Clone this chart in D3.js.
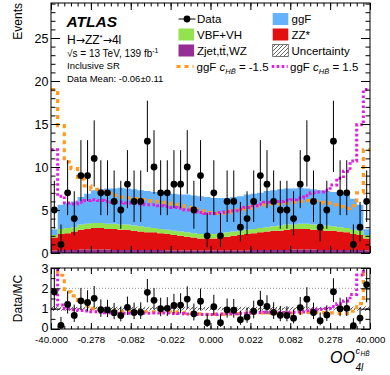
<!DOCTYPE html>
<html>
<head>
<meta charset="utf-8">
<script src="https://cdn.jsdelivr.net/npm/d3@7"></script>
<style>
  body { margin: 0; background: #fff; }
  svg { display: block; }
  text { font-family: "Liberation Sans", Arial, Helvetica, sans-serif; fill: #000; }
</style>
</head>
<body>
<div id="chart"></div>
<script>
// bin edge labels, one every 6 bins (48 bins total)
const binLabels = ["-40.000", "-0.278", "-0.082", "-0.022", "0.000", "0.022", "0.082", "0.278", "40.000"];

const dataCounts = [5, 1, 7, 4, 9, 9, 11, 7, 7, 6, 5, 8, 6, 6, 13, 10, 7, 7, 8, 8,
  10, 5, 9, 2, 7, 2, 6, 6, 3, 4, 6, 9, 8, 6, 5, 5, 4, 8, 11, 6, 3, 5, 13, 7, 7, 1, 3, 6];

// stacked backgrounds / signal, bottom to top
const zjet = [0.3, 0.35, 0.35, 0.35, 0.4, 0.4, 0.4, 0.4, 0.4, 0.35, 0.35, 0.35, 0.35, 0.35, 0.35, 0.35,
  0.35, 0.3, 0.3, 0.3, 0.3, 0.3, 0.3, 0.3, 0.3, 0.3, 0.3, 0.3, 0.3, 0.3, 0.35, 0.35,
  0.35, 0.35, 0.35, 0.35, 0.4, 0.4, 0.4, 0.4, 0.35, 0.35, 0.35, 0.35, 0.35, 0.35, 0.35, 0.3];
const zz = [1.5, 1.85, 1.95, 2.15, 2.3, 2.4, 2.5, 2.5, 2.4, 2.45, 2.35, 2.35, 2.25, 2.15, 2.05, 2.05,
  1.95, 1.9, 1.8, 1.7, 1.6, 1.5, 1.4, 1.4, 1.4, 1.5, 1.6, 1.7, 1.8, 1.9, 1.95, 2.05,
  2.15, 2.25, 2.25, 2.35, 2.4, 2.4, 2.4, 2.3, 2.35, 2.25, 2.25, 2.15, 2.05, 1.85, 1.75, 1.4];
const vbf = [0.3, 0.6, 0.6, 0.5, 0.6, 0.6, 0.6, 0.6, 0.6, 0.6, 0.6, 0.6, 0.6, 0.6, 0.6, 0.5,
  0.5, 0.5, 0.5, 0.5, 0.5, 0.5, 0.5, 0.5, 0.5, 0.5, 0.5, 0.5, 0.5, 0.5, 0.5, 0.5,
  0.5, 0.5, 0.6, 0.6, 0.5, 0.6, 0.6, 0.6, 0.6, 0.6, 0.5, 0.5, 0.5, 0.5, 0.5, 0.4];
const ggf = [0.65, 2.8, 2.9, 3.0, 3.2, 3.5, 3.8, 3.9, 4.1, 4.1, 4.3, 4.2, 4.2, 4.2, 4.2, 4.2,
  4.2, 4.2, 4.3, 4.3, 4.4, 4.4, 4.4, 4.3, 4.2, 4.1, 4.0, 4.0, 4.0, 4.1, 4.1, 4.1,
  4.2, 4.2, 4.2, 4.2, 4.2, 4.2, 4.1, 4.1, 4.0, 4.0, 4.0, 4.0, 4.0, 3.6, 3.0, 0.65];

// total prediction with modified ggF (c_HB~ = -1.5 and +1.5)
const ggfMinus = [19.0, 14.8, 10.6, 9.8, 8.6, 7.8, 7.4, 7.1, 6.9, 6.7, 6.5, 6.4, 6.3, 6.2, 6.1, 6.0,
  5.9, 5.8, 5.7, 5.5, 5.3, 5.1, 4.9, 4.7, 4.6, 4.6, 4.7, 4.9, 5.0, 5.2, 5.4, 5.5,
  5.7, 5.7, 5.7, 5.8, 5.9, 6.0, 6.1, 6.0, 5.9, 5.8, 5.6, 5.4, 5.2, 5.5, 7.0, 12.0];
const ggfPlus = [12.0, 6.6, 5.8, 5.7, 5.9, 6.1, 6.2, 6.1, 6.0, 5.9, 5.9, 5.8, 5.8, 5.7, 5.6, 5.6,
  5.5, 5.4, 5.3, 5.2, 5.0, 4.9, 4.7, 4.6, 4.6, 4.7, 4.8, 4.9, 5.1, 5.3, 5.5, 5.7,
  5.9, 6.0, 6.0, 6.1, 6.2, 6.4, 6.7, 7.0, 7.1, 7.3, 7.9, 8.7, 9.5, 10.7, 14.9, 19.0];

// relative MC uncertainty per bin
const relUnc = [0.12, 0.1, 0.1, 0.1, 0.09, 0.09, 0.09, 0.09, 0.09, 0.09, 0.09, 0.09, 0.09, 0.09, 0.09, 0.09,
  0.09, 0.09, 0.09, 0.09, 0.09, 0.09, 0.09, 0.09, 0.09, 0.09, 0.09, 0.09, 0.09, 0.09, 0.09, 0.09,
  0.09, 0.09, 0.09, 0.09, 0.09, 0.09, 0.09, 0.09, 0.09, 0.09, 0.09, 0.09, 0.09, 0.1, 0.1, 0.12];

const nBins = dataCounts.length;
const colors = { zjet: "#952f93", zz: "#e10f0f", vbf: "#94e24d", ggf: "#64b2fa" };
const orange = "#ff9a1f", magenta = "#e01ee0";

const W = 390, H = 375;
const L = 51, R = 370;
const mainTop = 3, mainBot = 253;
const ratTop = 268, ratBot = 329;

const svg = d3.select("#chart").append("svg")
  .attr("width", W).attr("height", H);

const x = d3.scaleLinear().domain([0, nBins]).range([L, R]);
const y = d3.scaleLinear().domain([0, 29.07]).range([mainBot, mainTop]);
const yr = d3.scaleLinear().domain([0, 3]).range([ratBot, ratTop]);

// defs: clip paths and hatch
const defs = svg.append("defs");
defs.append("clipPath").attr("id", "clipMain")
  .append("rect").attr("x", L).attr("y", mainTop).attr("width", R - L).attr("height", mainBot - mainTop);
defs.append("clipPath").attr("id", "clipRat")
  .append("rect").attr("x", L).attr("y", ratTop).attr("width", R - L).attr("height", ratBot - ratTop);
const hatch = defs.append("pattern").attr("id", "hatch")
  .attr("patternUnits", "userSpaceOnUse").attr("width", 4).attr("height", 4);
hatch.append("path").attr("d", "M-1,1 l2,-2 M0,4 l4,-4 M3,5 l2,-2")
  .attr("stroke", "#222").attr("stroke-width", 0.7);

// stacked MC
const rows = d3.range(nBins).map(i => ({ zjet: zjet[i], zz: zz[i], vbf: vbf[i], ggf: ggf[i] }));
const keys = ["zjet", "zz", "vbf", "ggf"];
const layers = d3.stack().keys(keys)(rows);
const mcTotal = rows.map(r => r.zjet + r.zz + r.vbf + r.ggf);

// helper: step points with closing edge
const stepPts = arr => arr.map((v, i) => ({ i, v })).concat([{ i: arr.length, v: arr[arr.length - 1] }]);

const area = d3.area()
  .x(d => x(d.i)).y0(d => y(d.y0)).y1(d => y(d.y1))
  .curve(d3.curveStepAfter);

const gMain = svg.append("g").attr("clip-path", "url(#clipMain)");
layers.forEach(layer => {
  const pts = layer.map((d, i) => ({ i, y0: d[0], y1: d[1] }));
  pts.push({ i: nBins, y0: pts[nBins - 1].y0, y1: pts[nBins - 1].y1 });
  gMain.append("path")
    .attr("d", area(pts))
    .attr("fill", colors[layer.key]);
});

// alternative hypotheses
const stepLine = (ys) => d3.line().x(d => x(d.i)).y(d => ys(d.v)).curve(d3.curveStepAfter);
gMain.append("path").attr("d", stepLine(y)(stepPts(ggfMinus)))
  .attr("fill", "none").attr("stroke", orange).attr("stroke-width", 3.2).attr("stroke-dasharray", "4,4");
gMain.append("path").attr("d", stepLine(y)(stepPts(ggfPlus)))
  .attr("fill", "none").attr("stroke", magenta).attr("stroke-width", 3).attr("stroke-dasharray", "2.6,2.4");

// Poisson (Garwood-like) intervals for the data
const errLo = n => n > 0 ? n - Math.sqrt(n - 0.25) : 0;
const errHi = n => n + 1 + Math.sqrt(n + 0.75);

const points = dataCounts.map((n, i) => ({ i, n, lo: errLo(n), hi: errHi(n), mc: mcTotal[i] }));

gMain.selectAll(".err").data(points).enter().append("line")
  .attr("x1", d => x(d.i + 0.5)).attr("x2", d => x(d.i + 0.5))
  .attr("y1", d => y(d.lo)).attr("y2", d => y(d.hi))
  .attr("stroke", "#000").attr("stroke-width", 1);
gMain.selectAll(".pt").data(points).enter().append("circle")
  .attr("cx", d => x(d.i + 0.5)).attr("cy", d => y(d.n)).attr("r", 3.4).attr("fill", "#000");

// ratio panel
const gRat = svg.append("g").attr("clip-path", "url(#clipRat)");
[1, 2].forEach(v => {
  gRat.append("line").attr("x1", L).attr("x2", R).attr("y1", yr(v)).attr("y2", yr(v))
    .attr("stroke", "#777").attr("stroke-width", 0.8).attr("stroke-dasharray", "1,2");
});
const bandPts = relUnc.map((u, i) => ({ i, y0: 1 - u, y1: 1 + u }));
bandPts.push({ i: nBins, y0: bandPts[nBins - 1].y0, y1: bandPts[nBins - 1].y1 });
gRat.append("path")
  .attr("d", d3.area().x(d => x(d.i)).y0(d => yr(d.y0)).y1(d => yr(d.y1)).curve(d3.curveStepAfter)(bandPts))
  .attr("fill", "url(#hatch)");

gRat.append("path").attr("d", stepLine(yr)(stepPts(ggfMinus.map((v, i) => v / mcTotal[i]))))
  .attr("fill", "none").attr("stroke", orange).attr("stroke-width", 3.2).attr("stroke-dasharray", "4,4");
gRat.append("path").attr("d", stepLine(yr)(stepPts(ggfPlus.map((v, i) => v / mcTotal[i]))))
  .attr("fill", "none").attr("stroke", magenta).attr("stroke-width", 3).attr("stroke-dasharray", "2.6,2.4");

gRat.selectAll(".rerr").data(points).enter().append("line")
  .attr("x1", d => x(d.i + 0.5)).attr("x2", d => x(d.i + 0.5))
  .attr("y1", d => yr(d.lo / d.mc)).attr("y2", d => yr(d.hi / d.mc))
  .attr("stroke", "#000").attr("stroke-width", 1);
gRat.selectAll(".rpt").data(points).enter().append("circle")
  .attr("cx", d => x(d.i + 0.5)).attr("cy", d => yr(d.n / d.mc)).attr("r", 3.4).attr("fill", "#000");

// axes and ticks
function ticks(axis, pos, tickVals, size, fmt, pad, fontSize) {
  const g = svg.append("g").attr("transform", pos)
    .call(axis.tickValues(tickVals).tickSize(size).tickPadding(pad || 3)
      .tickFormat(fmt || (() => "")));
  g.select(".domain").remove();
  g.selectAll(".tick line").attr("stroke", "#000").attr("stroke-width", 1);
  g.selectAll("text").attr("font-size", fontSize || 12).attr("fill", "#000")
    .attr("font-family", '"Liberation Sans", Arial, sans-serif');
  return g;
}
const majorX = d3.range(0, nBins + 1, 6);
const minorX = d3.range(0, nBins + 1);

// main panel
ticks(d3.axisLeft(y), `translate(${L},0)`, [0, 5, 10, 15, 20, 25], -9, d3.format("d"), 2.5, 12.5);
ticks(d3.axisLeft(y), `translate(${L},0)`, d3.range(0, 30), -4.5);
ticks(d3.axisRight(y), `translate(${R},0)`, [0, 5, 10, 15, 20, 25], -9);
ticks(d3.axisRight(y), `translate(${R},0)`, d3.range(0, 30), -4.5);
ticks(d3.axisBottom(x), `translate(0,${mainBot})`, majorX, -7);
ticks(d3.axisBottom(x), `translate(0,${mainBot})`, minorX, -3.5);
ticks(d3.axisTop(x), `translate(0,${mainTop})`, majorX, -7);
ticks(d3.axisTop(x), `translate(0,${mainTop})`, minorX, -3.5);

// ratio panel
const ratY = ticks(d3.axisLeft(yr), `translate(${L},0)`, [0, 1, 2, 3], -9, d3.format("d"), 2.5, 12.5);
ratY.selectAll(".tick text").filter(d => d === 0).attr("dy", "0.2em");
ticks(d3.axisLeft(yr), `translate(${L},0)`, [0, 0.5, 1, 1.5, 2, 2.5, 3], -4.5);
ticks(d3.axisRight(yr), `translate(${R},0)`, [0, 1, 2, 3], -9);
ticks(d3.axisRight(yr), `translate(${R},0)`, [0, 0.5, 1, 1.5, 2, 2.5, 3], -4.5);
ticks(d3.axisBottom(x), `translate(0,${ratBot})`, majorX, -6, (d, i) => binLabels[i], 7, 9.7);
ticks(d3.axisBottom(x), `translate(0,${ratBot})`, minorX, -3);
ticks(d3.axisTop(x), `translate(0,${ratTop})`, majorX, -6);
ticks(d3.axisTop(x), `translate(0,${ratTop})`, minorX, -3);

// frames
svg.append("rect").attr("x", L).attr("y", mainTop).attr("width", R - L).attr("height", mainBot - mainTop)
  .attr("fill", "none").attr("stroke", "#000").attr("stroke-width", 1);
svg.append("rect").attr("x", L).attr("y", ratTop).attr("width", R - L).attr("height", ratBot - ratTop)
  .attr("fill", "none").attr("stroke", "#000").attr("stroke-width", 1);

// axis titles
svg.append("text").attr("transform", "translate(21.5,3) rotate(-90)")
  .attr("text-anchor", "end").attr("font-size", 12).text("Events");
svg.append("text").attr("transform", `translate(21.5,${(ratTop + ratBot) / 2}) rotate(-90)`)
  .attr("text-anchor", "middle").attr("font-size", 12).text("Data/MC");

svg.append("text").attr("x", 330).attr("y", 363).attr("font-size", 16).attr("font-style", "italic").text("OO");
svg.append("text").attr("x", 355.5).attr("y", 353.5).attr("font-size", 9).attr("font-style", "italic").text("c");
svg.append("text").attr("x", 360.5).attr("y", 356).attr("font-size", 6.5).attr("font-style", "italic").text("HB\u0303");
svg.append("text").attr("x", 355.5).attr("y", 370.5).attr("font-size", 10).attr("font-style", "italic").text("4l");

// ATLAS labels
svg.append("text").attr("x", 66.5).attr("y", 26.5).attr("font-size", 15.5)
  .attr("font-weight", "bold").attr("font-style", "italic").text("ATLAS");
const h4l = svg.append("text").attr("x", 67).attr("y", 43.5).attr("font-size", 12);
h4l.append("tspan").text("H");
h4l.append("tspan").attr("font-family", '"DejaVu Sans", sans-serif').attr("font-size", 11).text("\u2192");
h4l.append("tspan").text("ZZ");
h4l.append("tspan").attr("font-size", 8).attr("dy", -4).text("*");
h4l.append("tspan").attr("dy", 4).attr("font-family", '"DejaVu Sans", sans-serif').attr("font-size", 11).text("\u2192");
h4l.append("tspan").text("4l");
const lumi = svg.append("text").attr("x", 67).attr("y", 56.5).attr("font-size", 10);
lumi.append("tspan").text("\u221As = 13 TeV, 139 fb");
lumi.append("tspan").attr("font-size", 7).attr("dy", -4).text("-1");
svg.append("text").attr("x", 67).attr("y", 69).attr("font-size", 9.5).text("Inclusive SR");
svg.append("text").attr("x", 67).attr("y", 81.5).attr("font-size", 9.5).text("Data Mean: -0.06\u00B10.11");

// legend
const lg = svg.append("g");
const col1 = 178.5, col2 = 272.7, txt1 = 197, txt2 = 291.5;
const rowY = [19, 34.5, 50.5, 66.5];
const legText = (xx, yy, s) => lg.append("text").attr("x", xx).attr("y", yy + 4).attr("font-size", 11.5).text(s);

lg.append("line").attr("x1", col1).attr("x2", col1 + 17).attr("y1", rowY[0]).attr("y2", rowY[0])
  .attr("stroke", "#000").attr("stroke-width", 1);
lg.append("circle").attr("cx", col1 + 8.5).attr("cy", rowY[0]).attr("r", 3.4).attr("fill", "#000");
legText(txt1, rowY[0], "Data");

const box = (xx, yy, fill) => lg.append("rect").attr("x", xx).attr("y", yy - 6).attr("width", 15.6)
  .attr("height", 12).attr("fill", fill);
box(col2, rowY[0], colors.ggf); legText(txt2, rowY[0], "ggF");
box(col1, rowY[1], colors.vbf); legText(txt1, rowY[1], "VBF+VH");
box(col2, rowY[1], colors.zz); legText(txt2, rowY[1], "ZZ*");
box(col1, rowY[2], colors.zjet); legText(txt1, rowY[2], "Zjet,tt\u0304,WZ");
box(col2, rowY[2], "url(#hatch)").attr("stroke", "#555").attr("stroke-width", 0.8);
legText(txt2, rowY[2], "Uncertainty");

lg.append("line").attr("x1", col1 - 2).attr("x2", col1 + 15).attr("y1", rowY[3]).attr("y2", rowY[3])
  .attr("stroke", orange).attr("stroke-width", 3.2).attr("stroke-dasharray", "4,4");
lg.append("line").attr("x1", col2 - 1).attr("x2", col2 + 15).attr("y1", rowY[3]).attr("y2", rowY[3])
  .attr("stroke", magenta).attr("stroke-width", 3).attr("stroke-dasharray", "2.6,2.4");

function cLabel(xx, val) {
  const t = lg.append("text").attr("x", xx).attr("y", rowY[3] + 4).attr("font-size", 11.5);
  t.append("tspan").text("ggF ");
  t.append("tspan").attr("font-style", "italic").text("c");
  t.append("tspan").attr("font-style", "italic").attr("font-size", 7.5).attr("dy", 3.5).text("HB\u0303");
  t.append("tspan").attr("dy", -3.5).text(" = " + val);
}
cLabel(txt1 - 0.5, "-1.5");
cLabel(txt2 - 1.5, "1.5");
</script>
</body>
</html>
